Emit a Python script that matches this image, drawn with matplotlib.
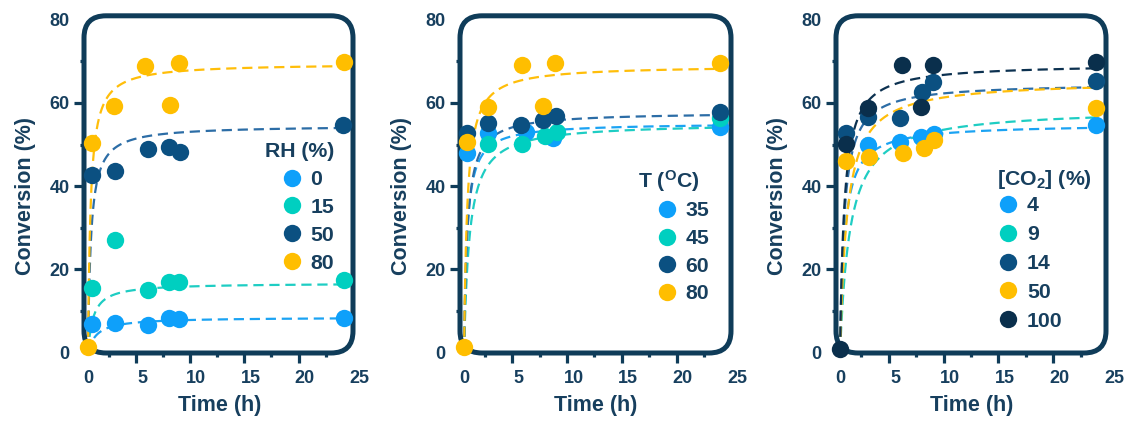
import numpy as np
import matplotlib
matplotlib.use("Agg")
import matplotlib.pyplot as plt
from matplotlib.patches import FancyBboxPatch
from matplotlib.transforms import ScaledTranslation

plt.rcParams["font.family"] = ["Liberation Sans", "DejaVu Sans"]
plt.rcParams["font.weight"] = "bold"
plt.rcParams["axes.labelweight"] = "bold"
plt.rcParams["mathtext.fontset"] = "custom"
plt.rcParams["mathtext.rm"] = "Liberation Sans:bold"
plt.rcParams["mathtext.it"] = "Liberation Sans:bold"
plt.rcParams["mathtext.bf"] = "Liberation Sans:bold"

# ------------------------------------------------------------------ data
# Panel 1: relative humidity
rh_labels = ["0", "15", "50", "80"]
rh0_t = [0.4, 2.5, 5.5, 7.5, 8.4, 23.6]
rh0_y = [6.8, 7.2, 6.6, 8.3, 8.2, 8.3]
rh15_t = [0.4, 2.5, 5.5, 7.5, 8.4, 23.6]
rh15_y = [15.6, 27.0, 15.1, 16.9, 16.9, 17.5]
rh50_t = [0.4, 2.5, 5.5, 7.5, 8.5, 23.5]
rh50_y = [42.6, 43.6, 49.0, 49.4, 48.3, 54.7]
rh80_t = [0.0, 0.4, 2.4, 5.3, 7.6, 8.4, 23.6]
rh80_y = [1.5, 50.3, 59.2, 68.9, 59.6, 69.5, 69.9]
rh_fit_A = [8.53, 16.74, 54.6, 69.5]
rh_fit_K = [0.78, 0.476, 0.274, 0.237]

# Panel 2: temperature
T_labels = ["35", "45", "60", "80"]
T35_t = [0.3, 2.2, 5.7, 8.1, 23.4]
T35_y = [47.9, 52.7, 52.9, 51.5, 54.3]
T45_t = [2.2, 5.3, 7.4, 8.5, 23.4]
T45_y = [50.1, 50.1, 52.0, 53.1, 56.3]
T60_t = [0.25, 2.2, 5.2, 7.25, 8.4, 23.4]
T60_y = [52.8, 55.1, 54.7, 56.0, 56.8, 57.9]
T80_t = [0.0, 0.25, 2.2, 5.3, 7.25, 8.3, 23.4]
T80_y = [1.4, 50.5, 58.9, 69.2, 59.2, 69.5, 69.6]
T_fit_A = [55.2, 55.2, 57.8, 69.0]
T_fit_K = [0.27, 0.496, 0.30, 0.287]

# Panel 3: CO2 concentration
co2_labels = ["4", "9", "14", "50", "100"]
c4_t = [2.55, 5.5, 7.35, 8.55, 23.3]
c4_y = [50.0, 50.7, 51.9, 52.5, 54.7]
c9_t = []
c9_y = []
c14_t = [0.5, 2.55, 5.5, 7.5, 8.5, 23.3]
c14_y = [52.7, 56.7, 56.3, 62.7, 64.9, 65.2]
c50_t = [0.5, 2.65, 5.7, 7.6, 8.6, 23.3]
c50_y = [46.1, 47.1, 47.9, 49.1, 51.2, 58.7]
c100_t = [0.0, 0.5, 2.55, 5.6, 7.4, 8.5, 23.3]
c100_y = [1.0, 50.1, 58.7, 69.1, 59.1, 69.2, 69.9]
co2_fit_A = [54.95, 58.7, 64.8, 65.4, 69.4]
co2_fit_K = [0.408, 0.906, 0.383, 0.632, 0.378]

x_ticks = [0, 5, 10, 15, 20, 25]
x_minor = [2.5, 7.5, 12.5, 17.5, 22.5]
y_ticks = [0, 20, 40, 60, 80]
y_minor = [10, 30, 50, 70]

# ------------------------------------------------------------------ style
LB, TEAL, DB, YEL, NAVY = "#0EA0FA", "#00CFC0", "#0B5081", "#FFBE00", "#0A2F4C"
LB_d, TEAL_d, DB_d, YEL_d, NAVY_d = "#1BA3F3", "#1ECDC3", "#2C6DA6", "#FFBE0A", "#0C3150"
FRAME = "#0F3C59"
TXT = "#173F5E"

W, H = 1137, 422
fig = plt.figure(figsize=(W / 100, H / 100), dpi=100)

XMIN, XMAX = -0.37, 25.05
YMIN, YMAX = -0.05, 80.9
TOP_PX, BOT_PX = 15.8, 353.0

panels = [
    dict(left=84, pxph=10.84, fright=353,
         series=[(rh0_t, rh0_y), (rh15_t, rh15_y), (rh50_t, rh50_y), (rh80_t, rh80_y)],
         labels=rh_labels, A=rh_fit_A, K=rh_fit_K,
         colors=[LB, TEAL, DB, YEL], dcolors=[LB_d, TEAL_d, DB_d, YEL_d],
         title="RH (%)", title_xy=(265, 156.7), leg_xy=(283.4, 170), ls=0.42, xlab_x=219.5),
    dict(left=460, pxph=10.94, fright=731,
         series=[(T35_t, T35_y), (T45_t, T45_y), (T60_t, T60_y), (T80_t, T80_y)],
         labels=T_labels, A=T_fit_A, K=T_fit_K,
         colors=[LB, TEAL, DB, YEL], dcolors=[LB_d, TEAL_d, DB_d, YEL_d],
         title=r"T ($^{O}$C)", title_xy=(638.3, 188.3), leg_xy=(658, 201.5), ls=0.40, xlab_x=595.8),
    dict(left=836, pxph=10.98, fright=1106,
         series=[(c4_t, c4_y), (c9_t, c9_y), (c14_t, c14_y), (c50_t, c50_y), (c100_t, c100_y)],
         labels=co2_labels, A=co2_fit_A, K=co2_fit_K,
         colors=[LB, TEAL, DB, YEL, NAVY], dcolors=[LB_d, TEAL_d, DB_d, YEL_d, NAVY_d],
         title=r"[CO$_{2}$] (%)", title_xy=(997.3, 185), leg_xy=(999.7, 196.5), ls=0.46, xlab_x=972),
]

tick_shift = ScaledTranslation(-6.3 / 100, 0, fig.dpi_scale_trans)

for p in panels:
    aw = (XMAX - XMIN) * p["pxph"]
    ah = BOT_PX - TOP_PX
    ax = fig.add_axes([p["left"] / W, 1 - BOT_PX / H, aw / W, ah / H])
    ax.set_xlim(XMIN, XMAX)
    ax.set_ylim(YMIN, YMAX)
    for s in ax.spines.values():
        s.set_visible(False)
    ax.patch.set_visible(False)

    # rounded frame
    fw = (p["fright"] - p["left"]) / aw
    r = 22 / aw
    frame = FancyBboxPatch((0, 0), fw, 1, boxstyle=f"round,pad=0,rounding_size={r}",
                           mutation_aspect=aw / ah, transform=ax.transAxes,
                           fill=False, ec=FRAME, lw=3.6, zorder=2.5, clip_on=False)
    ax.add_patch(frame)

    # fitted curves
    for (tt, yy), A, K, dc in zip(p["series"], p["A"], p["K"], p["dcolors"]):
        tend = max(tt) if len(tt) else 23.3
        tf = np.linspace(0, tend, 600)
        ax.plot(tf, A * tf / (K + tf), ls=(0, (4.6, 2.6)), lw=1.6, color=dc, zorder=2)

    handles = []
    for (tt, yy), c in zip(p["series"], p["colors"]):
        h, = ax.plot(tt, yy, "o", ms=12.5, color=c, mec="none", zorder=3, clip_on=False)
        handles.append(h)

    # ticks
    ax.set_xticks(x_ticks)
    ax.set_xticks(x_minor, minor=True)
    ax.set_yticks(y_ticks)
    ax.set_yticks(y_minor, minor=True)
    ax.tick_params(which="major", length=7.2, width=2.3, color=FRAME, labelsize=13,
                   labelcolor=TXT, direction="out")
    ax.tick_params(which="minor", length=3.0, width=2.3, color=FRAME, direction="out")
    ax.tick_params(axis="x", which="major", pad=5)
    ax.tick_params(axis="y", which="major", pad=3)
    for lab in ax.get_xticklabels() + ax.get_yticklabels():
        lab.set_fontweight("bold")
    for tk in ax.xaxis.get_major_ticks() + ax.xaxis.get_minor_ticks():
        tk.tick1line.set_transform(tk.tick1line.get_transform() + tick_shift)
    mt = ax.xaxis.get_major_ticks()
    mt[0].tick1line.set_visible(False)
    mt[-1].tick1line.set_visible(False)
    yt = ax.yaxis.get_major_ticks()
    yt[0].tick1line.set_visible(False)
    yt[-1].tick1line.set_visible(False)

    ax.set_ylabel("Conversion (%)", fontsize=15.5, color=TXT, fontweight="bold")
    ax.yaxis.set_label_coords(-48 / aw, (BOT_PX - 196) / ah)
    ax.set_xlabel("Time (h)", fontsize=15.5, color=TXT, fontweight="bold")
    ax.xaxis.set_label_coords((p["xlab_x"] - p["left"]) / aw, (BOT_PX - 395) / ah)

    fig.text(p["title_xy"][0] / W, 1 - p["title_xy"][1] / H, p["title"], fontsize=15.3,
             color=TXT, ha="left", va="baseline", fontweight="bold")
    leg = ax.legend(handles, p["labels"], loc="upper left",
                    bbox_to_anchor=(p["leg_xy"][0] / W, 1 - p["leg_xy"][1] / H),
                    bbox_transform=fig.transFigure, frameon=False, borderpad=0, borderaxespad=0,
                    handlelength=0.8, handletextpad=0.48, labelspacing=p["ls"],
                    prop={"size": 15.3, "weight": "bold"}, labelcolor=TXT)

fig.savefig("out.png", dpi=100)
